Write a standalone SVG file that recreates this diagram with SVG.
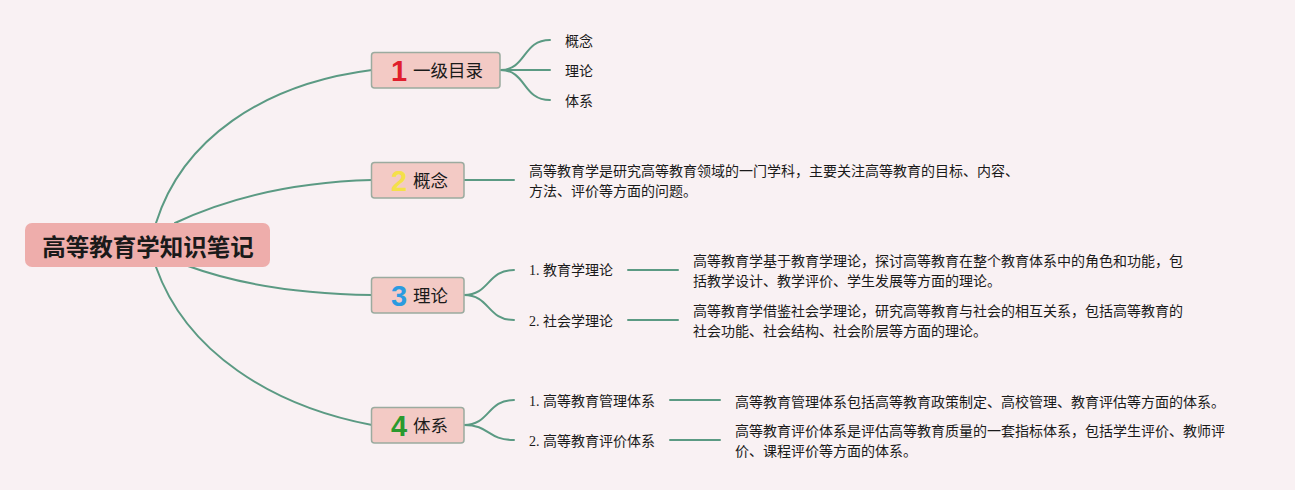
<svg xmlns="http://www.w3.org/2000/svg" width="1295" height="490" viewBox="0 0 1295 490">
<style>
.bg{fill:#f9f1f3}
.conn{fill:none;stroke:#5b9a83;stroke-width:2;stroke-linecap:round}
.root{fill:#eeadab}
.rootText{font-family:"Noto Sans CJK SC",sans-serif;font-weight:bold;font-size:23.5px;fill:#1a1a1a}
.l1{fill:#f3cac5;stroke:#9bab9f;stroke-width:1.5}
.l1Text{font-family:"Noto Sans CJK SC",sans-serif;font-size:17.5px;fill:#1a1a1a}
.num{font-family:"Liberation Sans",Arial,sans-serif;font-weight:bold;font-size:29px}
.t{font-family:"Noto Sans CJK SC",sans-serif;font-size:14px;fill:#1a1a1a}
.lbl{font-family:"Liberation Serif","Noto Sans CJK SC",serif;font-size:14px;fill:#1a1a1a}
</style>
<rect class="bg" x="0" y="0" width="1295" height="490"/>
<g id="connectors">
  <path class="conn" d="M156,223 C182,140 262,84 372,70"/>
  <path class="conn" d="M175,223 C232,196 300,182 372,180"/>
  <path class="conn" d="M188,266 C240,285 300,294 372,295"/>
  <path class="conn" d="M156,267 C186,352 272,406 372,425"/>
  <path class="conn" d="M500,70 C527,70 522,40 550,40"/>
  <path class="conn" d="M500,70 L550,70"/>
  <path class="conn" d="M500,70 C527,70 522,100 550,100"/>
  <path class="conn" d="M464,180 L514,180"/>
  <path class="conn" d="M464,295 C490,295 487,270 514,270"/>
  <path class="conn" d="M464,295 C490,295 487,320 514,320"/>
  <path class="conn" d="M628,270 L678,270"/>
  <path class="conn" d="M628,320 L678,320"/>
  <path class="conn" d="M464,425 C490,425 487,400 514,400"/>
  <path class="conn" d="M464,425 C490,425 487,440 514,440"/>
  <path class="conn" d="M670,400 L720,400"/>
  <path class="conn" d="M670,440 L720,440"/>
</g>
<g id="root">
  <rect class="root" x="25" y="223" width="245" height="44" rx="7"/>
  <text class="rootText" x="148" y="255.5" text-anchor="middle">高等教育学知识笔记</text>
</g>
<g id="node1">
  <rect class="l1" x="371.5" y="52.5" width="128.5" height="35.5" rx="3"/>
  <text class="num" x="399" y="81" text-anchor="middle" fill="#e01f2d">1</text>
  <text class="l1Text" x="413" y="76.5">一级目录</text>
</g>
<g id="node1-children">
  <text class="t" x="565" y="45.5">概念</text>
  <text class="t" x="565" y="75.5">理论</text>
  <text class="t" x="565" y="105.5">体系</text>
</g>
<g id="node2">
  <rect class="l1" x="371.5" y="162.5" width="92.5" height="35.5" rx="3"/>
  <text class="num" x="399" y="190.5" text-anchor="middle" fill="#f4e04a">2</text>
  <text class="l1Text" x="413" y="186.5">概念</text>
</g>
<g id="node2-desc">
  <text class="t" x="529" y="176">高等教育学是研究高等教育领域的一门学科，主要关注高等教育的目标、内容、</text>
  <text class="t" x="529" y="196">方法、评价等方面的问题。</text>
</g>
<g id="node3">
  <rect class="l1" x="371.5" y="277.5" width="92.5" height="35.5" rx="3"/>
  <text class="num" x="399" y="305.5" text-anchor="middle" fill="#2b9be0">3</text>
  <text class="l1Text" x="413" y="301.5">理论</text>
</g>
<g id="node3-1">
  <text class="lbl" x="529" y="275">1. 教育学理论</text>
  <text class="t" x="693" y="266">高等教育学基于教育学理论，探讨高等教育在整个教育体系中的角色和功能，包</text>
  <text class="t" x="693" y="286">括教学设计、教学评价、学生发展等方面的理论。</text>
</g>
<g id="node3-2">
  <text class="lbl" x="529" y="325.5">2. 社会学理论</text>
  <text class="t" x="693" y="316">高等教育学借鉴社会学理论，研究高等教育与社会的相互关系，包括高等教育的</text>
  <text class="t" x="693" y="336">社会功能、社会结构、社会阶层等方面的理论。</text>
</g>
<g id="node4">
  <rect class="l1" x="371.5" y="407.5" width="92.5" height="35.5" rx="3"/>
  <text class="num" x="399" y="435.5" text-anchor="middle" fill="#2a9a2e">4</text>
  <text class="l1Text" x="413" y="431.5">体系</text>
</g>
<g id="node4-1">
  <text class="lbl" x="529" y="405.5">1. 高等教育管理体系</text>
  <text class="t" x="735" y="406.5">高等教育管理体系包括高等教育政策制定、高校管理、教育评估等方面的体系。</text>
</g>
<g id="node4-2">
  <text class="lbl" x="529" y="445.5">2. 高等教育评价体系</text>
  <text class="t" x="735" y="436">高等教育评价体系是评估高等教育质量的一套指标体系，包括学生评价、教师评</text>
  <text class="t" x="735" y="456">价、课程评价等方面的体系。</text>
</g>
</svg>
